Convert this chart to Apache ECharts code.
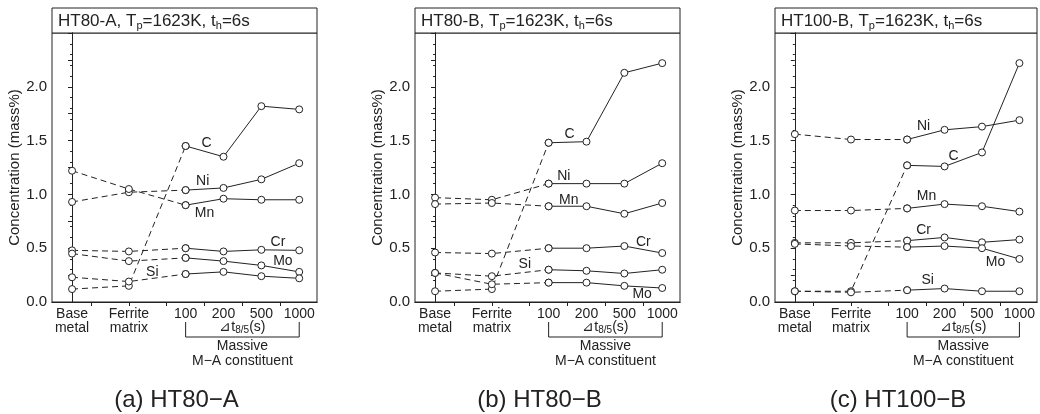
<!DOCTYPE html>
<html>
<head>
<meta charset="utf-8">
<script src="https://cdn.jsdelivr.net/npm/echarts@6/dist/echarts.min.js"></script>
<style>
  html, body { margin: 0; background: #fff; }
  #main { width: 1040px; height: 414px; }
</style>
</head>
<body>
<div id="main"></div>
<script>
// x slots: base metal, ferrite matrix, then the four cooling times of the M-A constituent
var xLabels = ['Base\nmetal', 'Ferrite\nmatrix', '100', '200', '500', '1000'];
var xSlots = [0, 1.5, 3, 4, 5, 6];
var elements = ['C', 'Ni', 'Mn', 'Cr', 'Mo', 'Si'];

// (a) HT80-A
var ht80a_C  = [0.12, 0.15, 1.45, 1.35, 1.82, 1.79];
var ht80a_Ni = [0.93, 1.02, 1.04, 1.06, 1.14, 1.29];
var ht80a_Mn = [1.22, 1.05, 0.90, 0.96, 0.95, 0.95];
var ht80a_Cr = [0.48, 0.47, 0.50, 0.47, 0.485, 0.48];
var ht80a_Mo = [0.45, 0.38, 0.41, 0.38, 0.34, 0.28];
var ht80a_Si = [0.23, 0.19, 0.26, 0.28, 0.24, 0.22];

// (b) HT80-B
var ht80b_C  = [0.10, 0.12, 1.48, 1.49, 2.13, 2.22];
var ht80b_Ni = [0.97, 0.95, 1.10, 1.10, 1.10, 1.29];
var ht80b_Mn = [0.91, 0.92, 0.89, 0.89, 0.82, 0.92];
var ht80b_Cr = [0.46, 0.45, 0.50, 0.50, 0.52, 0.455];
var ht80b_Mo = [0.27, 0.165, 0.18, 0.18, 0.15, 0.13];
var ht80b_Si = [0.27, 0.24, 0.30, 0.29, 0.265, 0.30];

// (c) HT100-B
var ht100b_C  = [0.10, 0.10, 1.27, 1.26, 1.39, 2.22];
var ht100b_Ni = [1.56, 1.51, 1.51, 1.60, 1.63, 1.69];
var ht100b_Mn = [0.85, 0.85, 0.87, 0.91, 0.89, 0.84];
var ht100b_Cr = [0.55, 0.55, 0.57, 0.60, 0.555, 0.58];
var ht100b_Mo = [0.54, 0.52, 0.51, 0.52, 0.50, 0.40];
var ht100b_Si = [0.10, 0.09, 0.11, 0.125, 0.10, 0.10];

// element name tags, placed in data coordinates
var tagsA = { C: [3.55, 1.48], Ni: [3.45, 1.12], Mn: [3.5, 0.83], Cr: [5.44, 0.56], Mo: [5.57, 0.38], Si: [2.12, 0.28] };
var tagsB = { C: [3.55, 1.56], Ni: [3.4, 1.17], Mn: [3.53, 0.95], Cr: [5.5, 0.56], Mo: [5.47, 0.07], Si: [2.37, 0.35] };
var tagsC = { C: [4.24, 1.36], Ni: [3.44, 1.63], Mn: [3.52, 0.98], Cr: [3.44, 0.67], Mo: [5.36, 0.37], Si: [3.55, 0.20] };

var panels = [
  { steel: 'HT80-A', caption: '(a) HT80\u2212A', tags: tagsA,
    data: { C: ht80a_C, Ni: ht80a_Ni, Mn: ht80a_Mn, Cr: ht80a_Cr, Mo: ht80a_Mo, Si: ht80a_Si } },
  { steel: 'HT80-B', caption: '(b) HT80\u2212B', tags: tagsB,
    data: { C: ht80b_C, Ni: ht80b_Ni, Mn: ht80b_Mn, Cr: ht80b_Cr, Mo: ht80b_Mo, Si: ht80b_Si } },
  { steel: 'HT100-B', caption: '(c) HT100\u2212B', tags: tagsC,
    data: { C: ht100b_C, Ni: ht100b_Ni, Mn: ht100b_Mn, Cr: ht100b_Cr, Mo: ht100b_Mo, Si: ht100b_Si } }
];

var ink = '#222';
var font = "'Liberation Sans', Arial, sans-serif";
var gridBoxes = [
  { left: 52, top: 33, width: 265, height: 269 },
  { left: 415, top: 33, width: 265, height: 269 },
  { left: 775, top: 33, width: 262, height: 269 }
];

var grid = [], xAxis = [], yAxis = [], series = [];

panels.forEach(function (p, i) {
  var g = gridBoxes[i];
  grid.push({ left: g.left, top: g.top, width: g.width, height: g.height,
    show: true, borderColor: ink, borderWidth: 1, backgroundColor: '#fff' });

  // bottom axis with category names
  xAxis.push({
    gridIndex: i, type: 'value', min: -0.53, max: 6.47, position: 'bottom',
    splitLine: { show: false },
    axisLine: { lineStyle: { color: ink } },
    axisTick: { show: false },
    axisLabel: {
      customValues: xSlots, margin: 5, color: ink, fontFamily: font, fontSize: 14, lineHeight: 14,
      formatter: function (v) { return xLabels[xSlots.indexOf(v)]; }
    }
  });
  // top axis, ticks only
  xAxis.push({
    gridIndex: i, type: 'value', min: -0.53, max: 6.47, position: 'top',
    splitLine: { show: false },
    axisLine: { lineStyle: { color: ink } },
    axisTick: { inside: true, length: 4, customValues: [0.5, 1.5, 2.5, 3.5, 4.5, 5.5], lineStyle: { color: ink } },
    axisLabel: { show: false }
  });
  yAxis.push({
    gridIndex: i, type: 'value', min: 0, max: 2.5, interval: 0.5,
    name: 'Concentration (mass%)', nameLocation: 'middle', nameGap: 30,
    nameTextStyle: { color: ink, fontFamily: font, fontSize: 15 },
    splitLine: { show: false },
    axisLine: { lineStyle: { color: ink } },
    axisTick: { length: 4, lineStyle: { color: ink } },
    minorTick: { show: true, splitNumber: 5, length: 2, lineStyle: { color: ink } },
    axisLabel: {
      color: ink, fontFamily: font, fontSize: 15, margin: 5,
      formatter: function (v) { return v >= 2.5 ? '' : v.toFixed(1); }
    }
  });
  yAxis.push({
    gridIndex: i, type: 'value', min: 0, max: 2.5, interval: 0.25, position: 'right',
    splitLine: { show: false },
    axisLine: { lineStyle: { color: ink } },
    axisTick: { inside: true, length: 4, lineStyle: { color: ink } },
    axisLabel: { show: false }
  });

  elements.forEach(function (el) {
    var vals = p.data[el];
    var pts = vals.map(function (v, k) { return [xSlots[k], v]; });
    var common = {
      type: 'line', xAxisIndex: i * 2, yAxisIndex: i * 2,
      symbol: 'circle', symbolSize: 7,
      itemStyle: { color: '#fff', borderColor: ink, borderWidth: 1 },
      silent: true, animation: false
    };
    series.push(Object.assign({}, common, {
      name: p.steel + ' ' + el + ' dashed',
      lineStyle: { color: ink, width: 1, type: [6, 4] },
      data: pts.slice(0, 3)
    }));
    series.push(Object.assign({}, common, {
      name: p.steel + ' ' + el,
      lineStyle: { color: ink, width: 1 },
      data: pts.slice(2),
      markPoint: {
        symbol: 'circle', symbolSize: 0, silent: true,
        label: { show: true, formatter: el, color: ink, fontFamily: font, fontSize: 14 },
        data: [{ coord: p.tags[el] }]
      }
    }));
  });
});

var chart = echarts.init(document.getElementById('main'));
chart.setOption({
  backgroundColor: '#fff',
  animation: false,
  grid: grid, xAxis: xAxis, yAxis: yAxis, series: series
});

// header boxes, brackets and captions, placed from the axes
var graphics = [];
panels.forEach(function (p, i) {
  var g = gridBoxes[i];
  graphics.push({
    type: 'rect', shape: { x: g.left, y: 8, width: g.width, height: g.top - 8 },
    style: { fill: '#fff', stroke: ink, lineWidth: 1 }
  });
  graphics.push({
    type: 'text', x: g.left + 6, y: 21,
    style: {
      text: '{n|' + p.steel + ', T}{s|p}{n|=1623K, t}{s|h}{n|=6s}',
      verticalAlign: 'middle', fill: ink,
      rich: {
        n: { fontFamily: font, fontSize: 17, fill: ink },
        s: { fontFamily: font, fontSize: 11, fill: ink, padding: [10, 0, 0, 0] }
      }
    }
  });
  var a = chart.convertToPixel({ gridIndex: i }, [xSlots[2], 0]);
  var b = chart.convertToPixel({ gridIndex: i }, [xSlots[5], 0]);
  graphics.push({
    type: 'polyline',
    shape: { points: [[a[0], 322], [a[0], 337], [b[0], 337], [b[0], 322]] },
    style: { stroke: ink, lineWidth: 1, fill: null }
  });
  var mid = (a[0] + b[0]) / 2;
  graphics.push({
    type: 'text', x: mid, y: 327,
    style: {
      text: '{n|\u22bft}{s|8/5}{n|(s)}', align: 'center', verticalAlign: 'middle',
      rich: {
        n: { fontFamily: font, fontSize: 14, fill: ink },
        s: { fontFamily: font, fontSize: 10, fill: ink, padding: [7, 0, 0, 0] }
      }
    }
  });
  graphics.push({
    type: 'text', x: mid, y: 346,
    style: { text: 'Massive', align: 'center', verticalAlign: 'middle', fontFamily: font, fontSize: 14, fill: ink }
  });
  graphics.push({
    type: 'text', x: mid, y: 361,
    style: { text: 'M\u2212A constituent', align: 'center', verticalAlign: 'middle', fontFamily: font, fontSize: 14, fill: ink }
  });
  graphics.push({
    type: 'text', x: g.left + g.width / 2 - 8, y: 400,
    style: { text: p.caption, align: 'center', verticalAlign: 'middle', fontFamily: font, fontSize: 24, fill: ink }
  });
});
chart.setOption({ graphic: graphics });
</script>
</body>
</html>
